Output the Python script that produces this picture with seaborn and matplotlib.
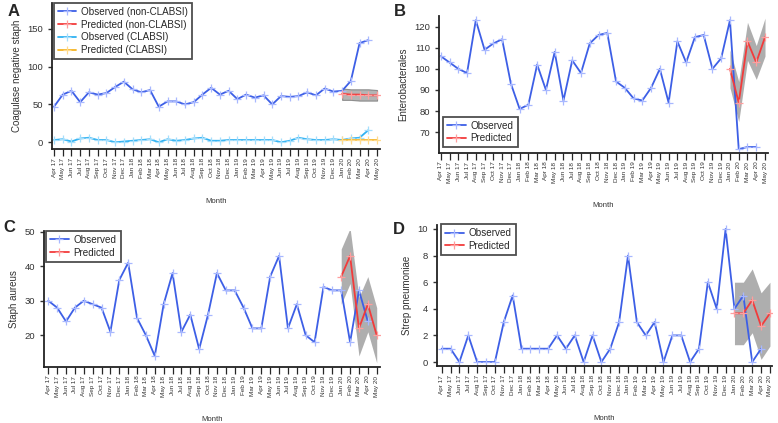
import numpy as np
import matplotlib
matplotlib.use("Agg")
import matplotlib.pyplot as plt
import seaborn as sns

sns.set_theme(style="ticks")
plt.rcParams["font.family"] = ["Liberation Sans", "DejaVu Sans"]

# Months on the x axis (Apr 17 - May 20)
months = ["Apr 17", "May 17", "Jun 17", "Jul 17", "Aug 17", "Sep 17", "Oct 17", "Nov 17", "Dec 17",
          "Jan 18", "Feb 18", "Mar 18", "Apr 18", "May 18", "Jun 18", "Jul 18", "Aug 18", "Sep 18",
          "Oct 18", "Nov 18", "Dec 18",
          "Jan 19", "Feb 19", "Mar 19", "Apr 19", "May 19", "Jun 19", "Jul 19", "Aug 19", "Sep 19",
          "Oct 19", "Nov 19", "Dec 19",
          "Jan 20", "Feb 20", "Mar 20", "Apr 20", "May 20"]
x_all = np.arange(len(months))
x_obs = x_all[:37]      # observed: Apr 17 - Apr 20
x_pred = x_all[33:]     # predicted: Jan 20 - May 20

# A - Coagulase negative staph
cons_obs = [47, 63, 68, 53, 66, 63, 65, 73, 80, 70, 66, 69, 47, 54, 54, 50, 53, 63, 72, 63, 68,
            57, 63, 59, 62, 50, 61, 60, 61, 66, 62, 71, 67, 68, 81, 131, 135]
cons_pred = [64, 63, 63, 62, 62]
cons_lo = [56, 56, 55, 55, 55]
cons_hi = [71, 70, 70, 70, 69]
clabsi_obs = [3, 4, 1, 5, 6, 3, 3, 0, 1, 2, 3, 4, 0, 4, 2, 3, 5, 6, 2, 2, 3,
              3, 3, 3, 3, 3, 0, 2, 6, 4, 3, 3, 4, 3, 5, 6, 16]
clabsi_pred = [3, 3, 3, 3, 3]

# B - Enterobacterales
entero_obs = [106, 103, 100, 98, 123, 109, 112, 114, 93, 81, 83, 102, 90, 108, 85, 104, 98, 112,
              116, 117, 94, 91, 86, 85, 91, 100, 84, 113, 103, 115, 116, 100, 105, 123, 62, 63, 63]
entero_pred = [100, 84, 113, 103, 115]
entero_lo = [91, 75, 104, 95, 106]
entero_hi = [109, 94, 122, 111, 124]

# C - Staph aureus
saur_obs = [30, 28, 24, 28, 30, 29, 28, 21, 36, 41, 25, 20, 14, 29, 38, 21, 26, 16, 26, 38, 33,
            33, 28, 22, 22, 37, 43, 22, 29, 20, 18, 34, 33, 33, 18, 33, 24]
saur_pred = [37, 43, 22, 29, 20]
saur_lo = [29, 35, 14, 21, 12]
saur_hi = [45, 51, 31, 37, 28]

# D - Strep pneumoniae
strep_obs = [1, 1, 0, 2, 0, 0, 0, 3, 5, 1, 1, 1, 1, 2, 1, 2, 0, 2, 0, 1, 3,
             8, 3, 2, 3, 0, 2, 2, 0, 1, 6, 4, 10, 4, 5, 0, 1]
strep_pred = [3.66, 3.66, 4.66, 2.7, 3.66]
strep_lo = [1.3, 1.3, 2.2, 0.2, 1.2]
strep_hi = [6.0, 6.0, 7.0, 5.2, 6.0]

# line colour, marker colour
blue = ("#3d5fe6", "#a8b8ff")
red = ("#f23b3b", "#ff9e9e")
cyan = ("#2fb2f2", "#a5defc")
orange = ("#f6b422", "#ffdb8f")
band = "#8c8c8c"

fig = plt.figure(figsize=(7.78, 4.23), dpi=100)
W, H = 778, 423


def add_ax(left, top, right, bottom):
    return fig.add_axes([left / W, 1 - bottom / H, (right - left) / W, (bottom - top) / H])


def draw_line(ax, x, y, colors, label):
    sns.lineplot(x=x, y=y, ax=ax, color=colors[0], linewidth=1.3, marker="+", markersize=6,
                 markeredgewidth=0.9, markeredgecolor=colors[1], sort=False, label=label)


def style(ax, xlim, ylim, yticks, ylabel):
    ax.set_xlim(*xlim)
    ax.set_ylim(*ylim)
    ax.set_yticks(yticks)
    ax.set_xticks(x_all)
    ax.set_xticklabels(months, rotation=90, fontsize=4.6, color="#333333")
    ax.tick_params(axis="y", labelsize=6.8, colors="#333333", length=3, width=1)
    ax.tick_params(axis="x", length=5, width=0.9, pad=1.5)
    ax.set_ylabel(ylabel, fontsize=7, color="#333333", labelpad=4)
    ax.set_xlabel("Month", fontsize=5.6, color="#333333", labelpad=14)
    sns.despine(ax=ax)
    for s in ["left", "bottom"]:
        ax.spines[s].set_linewidth(1.3)
        ax.spines[s].set_color("#222222")


def legend(ax, loc, anchor):
    leg = ax.legend(loc=loc, bbox_to_anchor=anchor, fontsize=7.1, frameon=True, fancybox=False,
                    edgecolor="#222222", borderpad=0.4, handlelength=1.9, labelspacing=0.28,
                    handletextpad=0.5, borderaxespad=0)
    leg.get_frame().set_linewidth(1.3)


# A
axA = add_ax(52, 3, 380, 149)
draw_line(axA, x_obs, cons_obs, blue, "Observed (non-CLABSI)")
axA.fill_between(x_pred, cons_lo, cons_hi, color=band, alpha=0.65, linewidth=0.8, edgecolor="#666666")
draw_line(axA, x_pred, cons_pred, red, "Predicted (non-CLABSI)")
draw_line(axA, x_obs, clabsi_obs, cyan, "Observed (CLABSI)")
draw_line(axA, x_pred, clabsi_pred, orange, "Predicted (CLABSI)")
style(axA, (-0.23, 37.34), (-8.9, 184), [0, 50, 100, 150], "Coagulase negative staph")
legend(axA, "upper left", (0.005, 1.0))

# B
axB = add_ax(439, 16, 768, 152.7)
draw_line(axB, x_obs, entero_obs, blue, "Observed")
axB.fill_between(x_pred, entero_lo, entero_hi, color=band, alpha=0.7, linewidth=0)
draw_line(axB, x_pred, entero_pred, red, "Predicted")
style(axB, (-0.2, 37.34), (60.3, 125), [70, 80, 90, 100, 110, 120], "Enterobacterales")
legend(axB, "lower left", (0.012, 0.04))

# C
axC = add_ax(44, 231, 380, 366.7)
draw_line(axC, x_obs, saur_obs, blue, "Observed")
axC.fill_between(x_pred, saur_lo, saur_hi, color=band, alpha=0.7, linewidth=0)
draw_line(axC, x_pred, saur_pred, red, "Predicted")
style(axC, (-0.48, 37.37), (10.9, 50.2), [20, 30, 40, 50], "Staph aureus")
legend(axC, "upper left", (0.006, 1.0))

# D
axD = add_ax(436.7, 225, 772, 366)
draw_line(axD, x_obs, strep_obs, blue, "Observed")
axD.fill_between(x_pred, strep_lo, strep_hi, color=band, alpha=0.7, linewidth=0)
draw_line(axD, x_pred, strep_pred, red, "Predicted")
style(axD, (-0.56, 37.23), (-0.3, 10.3), [0, 2, 4, 6, 8, 10], "Strep pneumoniae")
legend(axD, "upper left", (0.013, 1.007))

for letter, px, py in [("A", 14, 12), ("B", 400, 12), ("C", 9, 227), ("D", 399, 229)]:
    fig.text(px / W, 1 - py / H, letter, fontsize=12, fontweight="bold", ha="center", va="center")

fig.savefig("out.png", dpi=100)
